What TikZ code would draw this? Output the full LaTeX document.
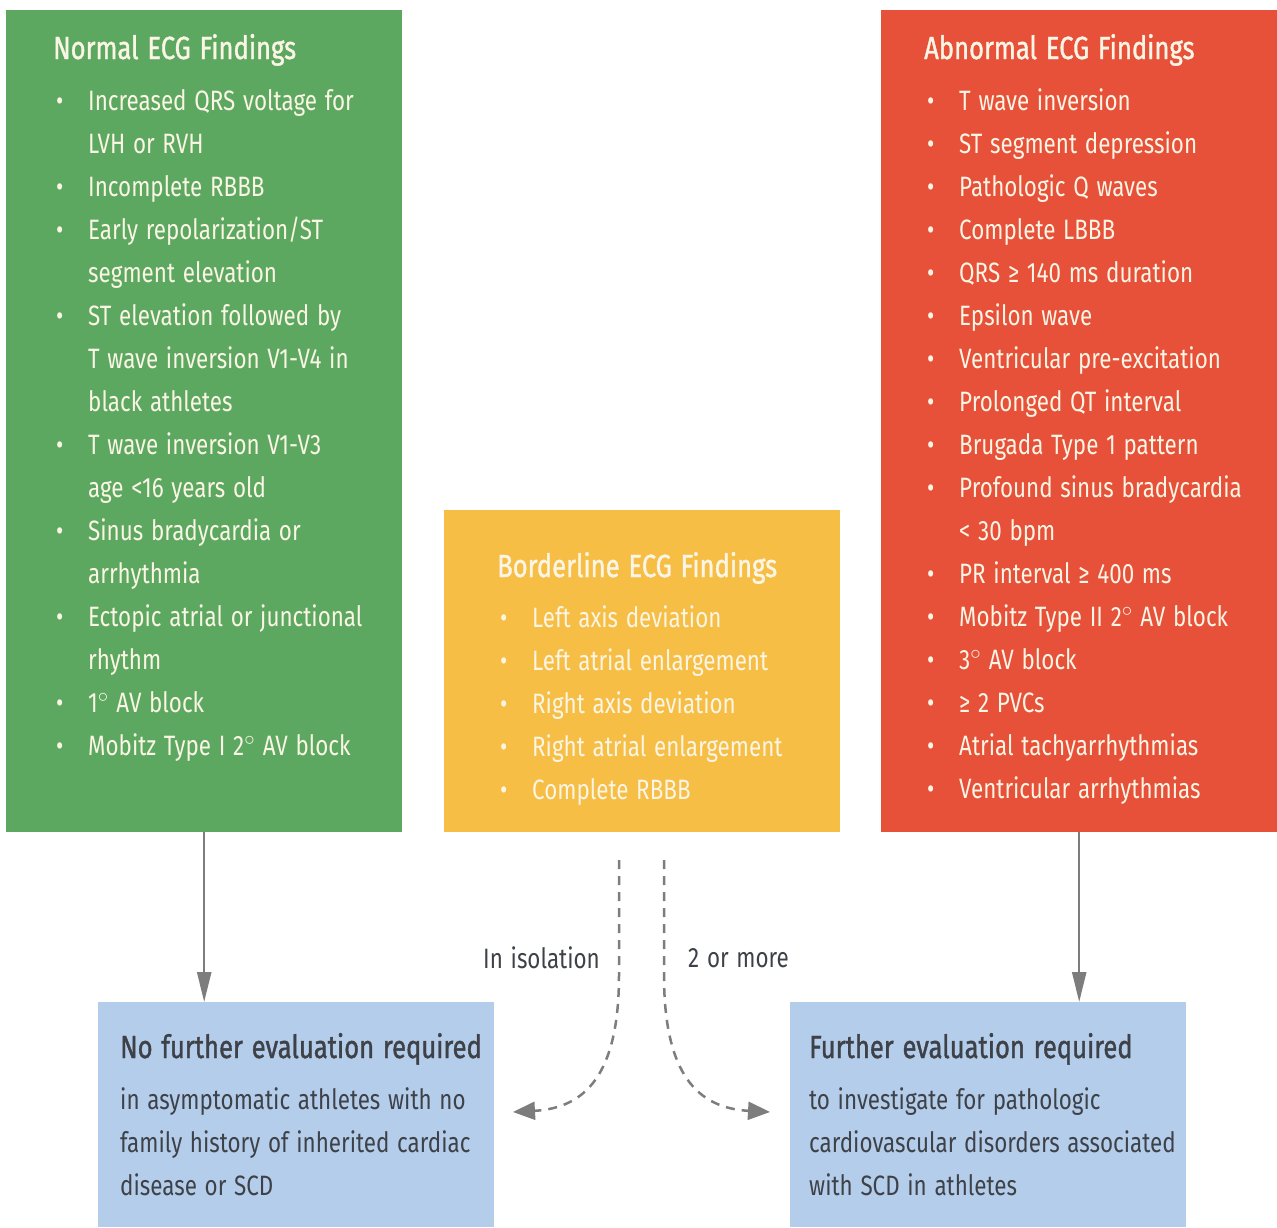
\documentclass[tikz,border=0pt]{standalone}
\usepackage{fontspec}
\setmainfont[FakeStretch=0.80,WordSpace=1.3]{Fira Sans}
\newfontfamily\headfont[FakeStretch=0.80,WordSpace=1.3,FakeBold=1.2]{Fira Sans}
\usepackage{tikz}
\usetikzlibrary{arrows.meta}

\definecolor{normgreen}{RGB}{93,168,97}
\definecolor{abnred}{RGB}{231,80,57}
\definecolor{bordyellow}{RGB}{247,190,70}
\definecolor{evalblue}{RGB}{180,205,234}
\definecolor{cream}{RGB}{250,245,228}
\definecolor{arrowgray}{RGB}{125,125,125}
\definecolor{darktext}{RGB}{62,66,72}

\newcommand{\itm}{\makebox[35pt][l]{\hspace{3pt}\textbullet}}
\newcommand{\cnt}{\hspace*{35pt}}

\tikzset{
  panel/.style={anchor=north west,inner sep=0,minimum width=396},
  head/.style={anchor=base west,inner sep=0,font=\headfont\fontsize{32}{43}\selectfont},
  items/.style={anchor=base west,inner sep=0,text width=390,align=flush left,font=\fontsize{28}{43}\selectfont},
  lbl/.style={inner sep=0,text=darktext,font=\fontsize{28}{43}\selectfont}
}

\begin{document}
\begin{tikzpicture}[x=1pt,y=-1pt]
\useasboundingbox (0,0) rectangle (1277,1227);

\begin{scope}[>={Triangle[length=30,width=14]}]
\node (normal) [panel,fill=normgreen,minimum height=822] at (6,10) {};
\node (abnormal) [panel,fill=abnred,minimum height=822] at (881,10) {};
\node (border) [panel,fill=bordyellow,minimum height=322] at (444,510) {};
\node (noeval) [panel,fill=evalblue,minimum height=225] at (98,1002) {};
\node (furth) [panel,fill=evalblue,minimum height=225] at (790,1002) {};

\node (normalhd) [head,text=cream] at (53,59) {Normal ECG Findings};
\node (normallist) [items,text=cream] at (53,110) {\itm Increased QRS voltage for\\ \cnt LVH or RVH\\
\itm Incomplete RBBB\\
\itm Early repolarization/ST\\ \cnt segment elevation\\
\itm ST elevation followed by\\ \cnt T wave inversion V1-V4 in\\ \cnt black athletes\\
\itm T wave inversion V1-V3\\ \cnt age <16 years old\\
\itm Sinus bradycardia or\\ \cnt arrhythmia\\
\itm Ectopic atrial or junctional\\ \cnt rhythm\\
\itm 1$^{\circ}$ AV block\\
\itm Mobitz Type I 2$^{\circ}$ AV block};

\node (abnormalhd) [head,text=cream] at (924,59) {Abnormal ECG Findings};
\node (abnormallist) [items,text=cream] at (924,110) {\itm T wave inversion\\
\itm ST segment depression\\
\itm Pathologic Q waves\\
\itm Complete LBBB\\
\itm QRS ≥ 140 ms duration\\
\itm Epsilon wave\\
\itm Ventricular pre-excitation\\
\itm Prolonged QT interval\\
\itm Brugada Type 1 pattern\\
\itm Profound sinus bradycardia\\ \cnt < 30 bpm\\
\itm PR interval ≥ 400 ms\\
\itm Mobitz Type II 2$^{\circ}$ AV block\\
\itm 3$^{\circ}$ AV block\\
\itm ≥ 2 PVCs\\
\itm Atrial tachyarrhythmias\\
\itm Ventricular arrhythmias};

\node (borderhd) [head,text=cream] at (497,577) {Borderline ECG Findings};
\node (borderlist) [items,text=cream] at (497,627) {\itm Left axis deviation\\
\itm Left atrial enlargement\\
\itm Right axis deviation\\
\itm Right atrial enlargement\\
\itm Complete RBBB};

\node (noevalhd) [head,text=darktext] at (120,1058) {No further evaluation required};
\node (noevaltxt) [items,text=darktext] at (120,1109) {in asymptomatic athletes with no\\ family history of inherited cardiac\\ disease or SCD};
\node (furthhd) [head,text=darktext] at (809,1058) {Further evaluation required};
\node (furthtxt) [items,text=darktext] at (809,1109) {to investigate for pathologic\\ cardiovascular disorders associated\\ with SCD in athletes};

\draw[->,arrowgray,line width=2.5] (normal.south) -- (normal.south |- noeval.north);
\draw[->,arrowgray,line width=2.5] (abnormal.south) -- (abnormal.south |- furth.north);

\coordinate (isostart) at (619,860);
\coordinate (isoend) at (513,1112);
\coordinate (twostart) at (664,860);
\coordinate (twoend) at (770,1112);
\draw[->,>={Triangle[length=22,width=18]},arrowgray,line width=2.5,dash pattern=on 9 off 7] (isostart) -- (619,975) .. controls (619,1075) and (585,1108) .. (isoend);
\draw[->,>={Triangle[length=22,width=18]},arrowgray,line width=2.5,dash pattern=on 9 off 7] (twostart) -- (664,975) .. controls (664,1075) and (698,1108) .. (twoend);
\node (isolbl) [lbl,anchor=east] at (600,958) {In isolation};
\node (twolbl) [lbl,anchor=west] at (688,958) {2 or more};
\end{scope}
\end{tikzpicture}
\end{document}
